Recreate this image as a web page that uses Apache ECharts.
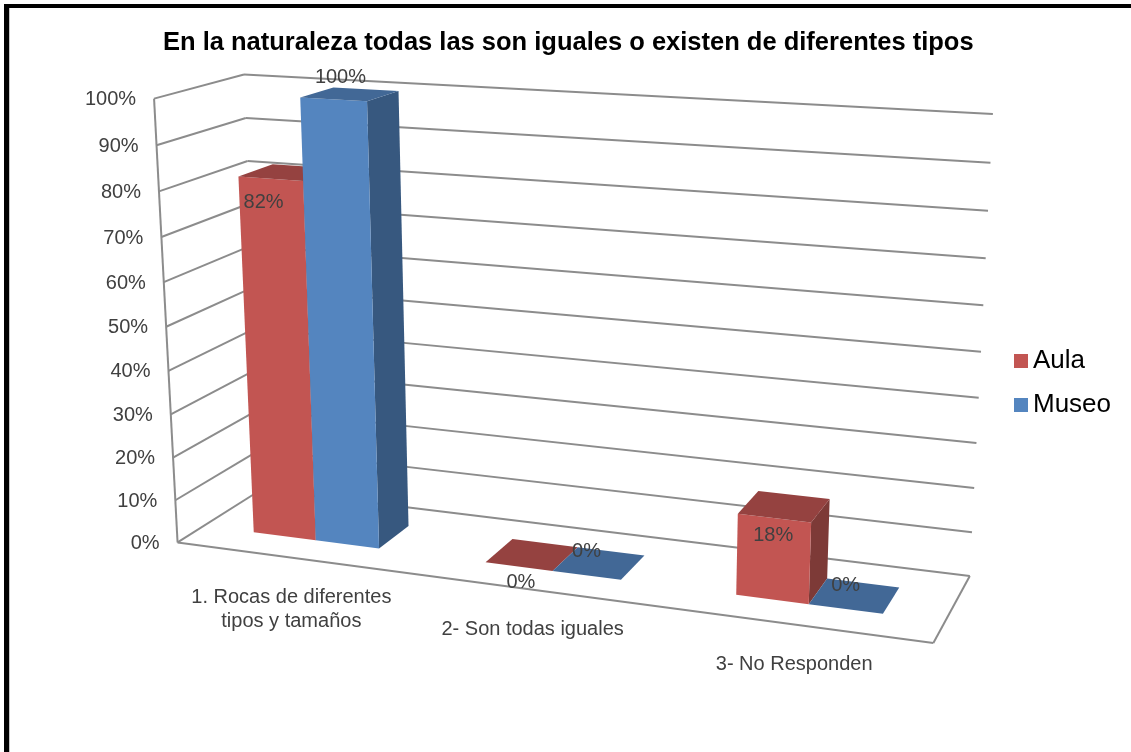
<!DOCTYPE html>
<html>
<head>
<meta charset="utf-8">
<title>Tipos de rocas</title>
<script src="https://cdn.jsdelivr.net/npm/echarts@6/dist/echarts.min.js"></script>
<style>
  html, body { margin: 0; padding: 0; background: #fff; }
  #chart { width: 1131px; height: 752px; }
</style>
</head>
<body>
<div id="chart"></div>
<script>
const categories = ['1. Rocas de diferentes\ntipos y tamaños', '2- Son todas iguales', '3- No Responden'];
const aula = [82, 0, 18];
const museo = [100, 0, 0];
const ticks = [0, 10, 20, 30, 40, 50, 60, 70, 80, 90, 100];
const tickLabels = ['0%', '10%', '20%', '30%', '40%', '50%', '60%', '70%', '80%', '90%', '100%'];

// where the corners of the 3d box land on the page: [u, v, w, x, y]
// u along the categories, v up the value axis, w from front to back
const boxCorners = [
  [0, 0, 0, 177, 543],
  [0, 1, 0, 155, 98],
  [0, 0, 1, 262, 489],
  [0, 1, 1, 243, 75],
  [1, 0, 1, 970, 576],
  [1, 1, 1, 993, 114],
  [1, 0, 0, 933, 643]
];
const depthFront = 0.3;
const depthBack = 0.7;
const barShare = 0.275; // share of a category band taken by one bar
const textColor = '#404040';
const lineColor = '#8c8c8c';
const fontFamily = '"Liberation Sans", Arial, sans-serif';

// least squares fit of the 3x4 camera matrix, last term fixed at 1
function fitCamera(points) {
  const rows = [];
  const rhs = [];
  points.forEach(([u, v, w, px, py]) => {
    const x = px / 1000;
    const y = py / 1000;
    rows.push([u, v, w, 1, 0, 0, 0, 0, -x * u, -x * v, -x * w]);
    rhs.push(x);
    rows.push([0, 0, 0, 0, u, v, w, 1, -y * u, -y * v, -y * w]);
    rhs.push(y);
  });
  const n = 11;
  const m = [];
  for (let i = 0; i < n; i++) {
    m[i] = [];
    for (let j = 0; j < n; j++) {
      m[i][j] = rows.reduce((s, r) => s + r[i] * r[j], 0);
    }
    m[i][n] = rows.reduce((s, r, k) => s + r[i] * rhs[k], 0);
  }
  for (let c = 0; c < n; c++) {
    let best = c;
    for (let r = c + 1; r < n; r++) {
      if (Math.abs(m[r][c]) > Math.abs(m[best][c])) best = r;
    }
    [m[c], m[best]] = [m[best], m[c]];
    for (let r = 0; r < n; r++) {
      if (r === c) continue;
      const f = m[r][c] / m[c][c];
      for (let k = c; k <= n; k++) m[r][k] -= f * m[c][k];
    }
  }
  return m.map((row, i) => row[n] / row[i]);
}

const cam = fitCamera(boxCorners);

function project(u, v, w) {
  const d = cam[8] * u + cam[9] * v + cam[10] * w + 1;
  return [
    1000 * (cam[0] * u + cam[1] * v + cam[2] * w + cam[3]) / d,
    1000 * (cam[4] * u + cam[5] * v + cam[6] * w + cam[7]) / d
  ];
}

// axis pixels -> fractions of the grid, so every mark goes through the axes
function toUV(params, point) {
  const g = params.coordSys;
  return [(point[0] - g.x) / g.width, (g.y + g.height - point[1]) / g.height];
}

function line(a, b) {
  return {
    type: 'line',
    shape: { x1: a[0], y1: a[1], x2: b[0], y2: b[1] },
    style: { stroke: lineColor, lineWidth: 2 }
  };
}

function label(text, pos, align, verticalAlign, color) {
  return {
    type: 'text',
    z2: 20,
    style: {
      text: text,
      x: pos[0],
      y: pos[1],
      align: align,
      verticalAlign: verticalAlign,
      fill: color || textColor,
      font: '20px ' + fontFamily,
      lineHeight: 24
    }
  };
}

function renderWall(params, api) {
  const v = toUV(params, api.coord([0, api.value(0)]))[1];
  const children = [
    line(project(0, v, 0), project(0, v, 1)),
    line(project(0, v, 1), project(1, v, 1))
  ];
  const edge = project(0, v, 0);
  children.push(label(tickLabels[params.dataIndex], [edge[0] - 18, edge[1] + 1], 'right', 'middle'));
  if (v === 0) {
    children.push(line(project(0, 0, 0), project(1, 0, 0)));
    children.push(line(project(1, 0, 0), project(1, 0, 1)));
    children.push(line(project(0, 1, 0), project(0, 0, 0)));
  }
  return { type: 'group', children: children };
}

function renderCategory(params, api) {
  const u = toUV(params, api.coord([api.value(0), 0]))[0];
  const p = project(u, 0, 0);
  return label(categories[params.dataIndex], [p[0], p[1] + 28], 'center', 'top');
}

function face(points, color) {
  return { type: 'polygon', shape: { points: points }, style: { fill: color } };
}

function makeBars(colors, side, shifts) {
  return function (params, api) {
    const top = toUV(params, api.coord([api.value(0), api.value(1)]));
    const band = api.size([1, 0])[0] / params.coordSys.width;
    const u0 = side < 0 ? top[0] - band * barShare : top[0];
    const u1 = u0 + band * barShare;
    const v = top[1];
    const children = [];
    if (v > 0) {
      children.push(face([project(u1, 0, depthFront), project(u1, 0, depthBack), project(u1, v, depthBack), project(u1, v, depthFront)], colors.side));
      children.push(face([project(u0, 0, depthFront), project(u1, 0, depthFront), project(u1, v, depthFront), project(u0, v, depthFront)], colors.front));
    }
    children.push(face([project(u0, v, depthFront), project(u1, v, depthFront), project(u1, v, depthBack), project(u0, v, depthBack)], colors.top));
    const anchor = project((u0 + u1) / 2, v, depthFront);
    const shift = shifts[params.dataIndex];
    children.push(label(api.value(1) + '%', [anchor[0] + shift[0], anchor[1] + shift[1]], 'center', 'middle'));
    return { type: 'group', children: children };
  };
}

const aulaColors = { front: '#c25552', top: '#954240', side: '#7d3a37' };
const museoColors = { front: '#5485bf', top: '#426896', side: '#37587f' };
const aulaLabelShift = [[-7, 24], [2, 16], [-1, 17]];
const museoLabelShift = [[7, -22], [0, -24], [0, -23]];

const chart = echarts.init(document.getElementById('chart'));
chart.setOption({
  backgroundColor: '#fff',
  animation: false,
  title: {
    text: 'En la naturaleza todas las son iguales o existen de diferentes tipos',
    left: 158,
    top: 25,
    textStyle: { color: '#000', fontFamily: fontFamily, fontWeight: 'bold', fontSize: 25.5 }
  },
  legend: {
    data: ['Aula', 'Museo'],
    orient: 'vertical',
    left: 1009,
    top: 343,
    itemWidth: 14,
    itemHeight: 14,
    itemGap: 18,
    icon: 'rect',
    textStyle: { color: '#000', fontFamily: fontFamily, fontSize: 26 }
  },
  grid: { left: 177, top: 98, width: 756, height: 445 },
  xAxis: { type: 'category', data: categories, show: false },
  yAxis: { type: 'value', min: 0, max: 100, interval: 10, show: false },
  graphic: [
    { type: 'rect', shape: { x: 9, y: 8, width: 1, height: 744 }, style: { fill: '#c4c4c4' } },
    { type: 'rect', shape: { x: 4, y: 4, width: 5, height: 748 }, style: { fill: '#000' } },
    { type: 'rect', shape: { x: 4, y: 4, width: 1127, height: 4 }, style: { fill: '#000' } }
  ],
  series: [
    {
      type: 'custom',
      name: 'paredes',
      renderItem: renderWall,
      data: ticks.map(t => [t]),
      encode: { y: 0 },
      silent: true,
      z: 1
    },
    {
      type: 'custom',
      name: 'categorias',
      renderItem: renderCategory,
      data: categories.map((c, i) => [i]),
      encode: { x: 0 },
      silent: true,
      z: 1
    },
    {
      type: 'custom',
      name: 'Aula',
      renderItem: makeBars(aulaColors, -1, aulaLabelShift),
      data: aula.map((v, i) => [i, v]),
      encode: { x: 0, y: 1 },
      itemStyle: { color: '#c25552' },
      z: 2
    },
    {
      type: 'custom',
      name: 'Museo',
      renderItem: makeBars(museoColors, 1, museoLabelShift),
      data: museo.map((v, i) => [i, v]),
      encode: { x: 0, y: 1 },
      itemStyle: { color: '#5485bf' },
      z: 3
    }
  ]
});
</script>
</body>
</html>
